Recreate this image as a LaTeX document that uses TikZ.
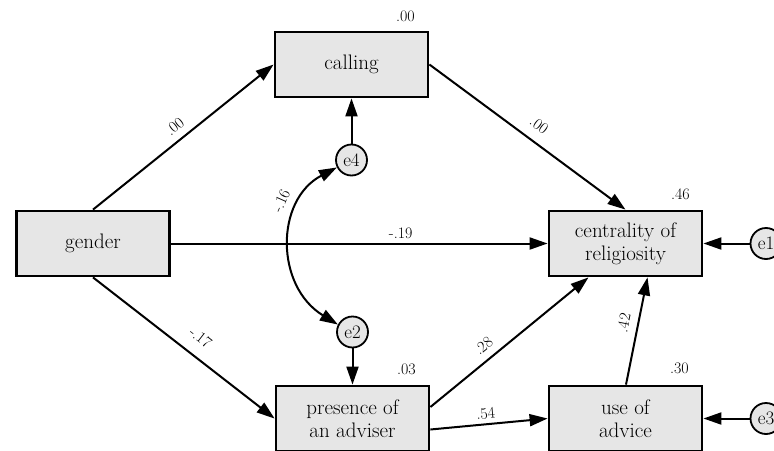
\documentclass[tikz,border=0pt]{standalone}
\usepackage{fontspec}
\usetikzlibrary{arrows.meta}
\definecolor{boxfill}{RGB}{230,230,230}
\tikzset{
  var/.style={draw, line width=2.8pt, fill=boxfill, minimum width=153pt,
    minimum height=65pt, align=center, inner sep=0pt,
    font=\fontsize{21}{23}\selectfont},
  err/.style={circle, draw, line width=1.8pt, fill=boxfill, minimum size=31pt,
    inner sep=0pt, font=\fontsize{19}{20}\selectfont},
  lab/.style={font=\fontsize{16}{17}\selectfont, inner sep=2pt},
  rsq/.style={font=\fontsize{16}{17}\selectfont, inner sep=0pt},
  path/.style={line width=2pt, -{Triangle[length=18pt,width=12pt]}},
  bipath/.style={line width=2pt,
    {Triangle[length=18pt,width=12pt]}-{Triangle[length=18pt,width=12pt]}}
}
\begin{document}
\begin{tikzpicture}[x=1pt,y=-1pt]
\useasboundingbox (0,0) rectangle (774,450);
\clip (0,0) rectangle (774,450);

% observed variables
\node[var] (gender)     at (93,243.5)   {gender};
\node[var] (calling)    at (351.5,64.5) {calling};
\node[var] (centrality) at (625.5,243.5){centrality of\\religiosity};
\node[var] (presence)   at (352.5,418.5){presence of\\an adviser};
\node[var] (use)        at (625.5,418.5){use of\\advice};

% error terms
\node[err] (e1) at (766,243.5) {e1};
\node[err] (e3) at (766,418.5) {e3};
\node[err] (e4) at (351.5,160) {e4};
\node[err] (e2) at (352.5,332) {e2};

% squared multiple correlations
\node[rsq] at ([xshift=-24pt,yshift=14pt]calling.north east)    {.00};
\node[rsq] at ([xshift=-23pt,yshift=15pt]centrality.north east) {.46};
\node[rsq] at ([xshift=-24pt,yshift=15pt]presence.north east)   {.03};
\node[rsq] at ([xshift=-24pt,yshift=16pt]use.north east)        {.30};

% structural paths
\draw[path] (gender.north) -- node[lab,sloped,above=5pt,pos=0.5] {.00} (calling.west);
\draw[path] (gender.south) -- node[lab,sloped,above=10pt,pos=0.53] {-.17} (presence.west);
\draw[path] (gender.east) -- node[lab,above=2pt,pos=0.61] {-.19} (centrality.west);
\draw[path] (calling.east) -- node[lab,sloped,above=8pt,pos=0.51] {.00} (centrality.north);
\draw[path] ([yshift=11.5pt]presence.east) -- node[lab,sloped,above=5pt,pos=0.39] {.28}
  ([xshift=-37pt]centrality.south);
\draw[path] ([yshift=-11pt]presence.east) -- node[lab,sloped,above=2pt,pos=0.48] {.54} (use.west);
\draw[path] ([xshift=0.5pt]use.north) -- node[lab,sloped,above=6pt,pos=0.55] {.42}
  ([xshift=22pt]centrality.south);

% error terms to their variables
\draw[path] (e1) -- (centrality.east);
\draw[path] (e3) -- (use.east);
\draw[path] (e4) -- (calling.south);
\draw[path] (e2) -- (presence.north);

% covariance between e4 and e2
\draw[bipath] (e4.207) .. controls (275,200) and (275,286) ..
  node[lab,sloped,above=10pt,pos=0.3] {-.16} (e2.153);
\end{tikzpicture}
\end{document}
